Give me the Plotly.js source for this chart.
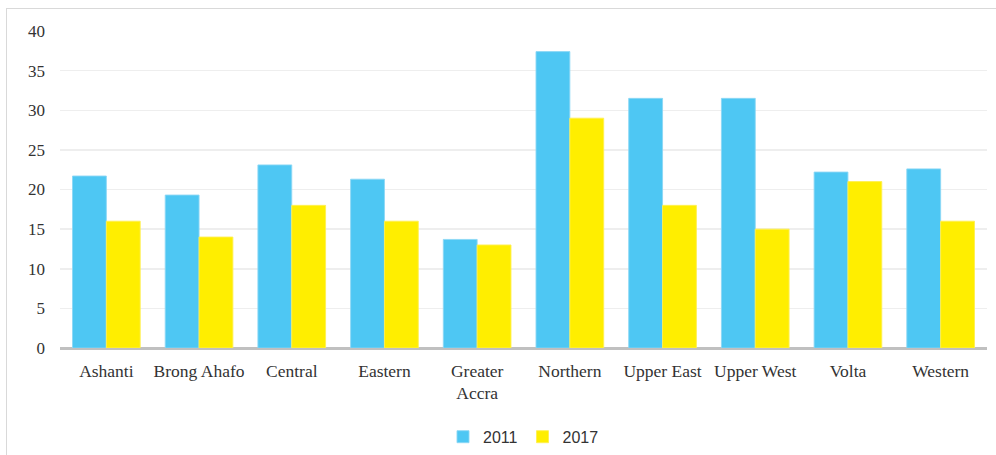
<!DOCTYPE html>
<html>
<head>
<meta charset="utf-8">
<script src="https://cdn.plot.ly/plotly-3.0.1.min.js"></script>
<style>
html,body{margin:0;padding:0;background:#fff;}
#frame{position:absolute;left:6px;top:8px;width:1000px;height:460px;border:1px solid #D9D9D9;box-sizing:border-box;}
#chart{position:absolute;left:0;top:0;width:996px;height:455px;}
</style>
</head>
<body>
<div id="frame"></div>
<div id="chart"></div>
<script>
var regions = ["Ashanti","Brong Ahafo","Central","Eastern","Greater<br>Accra","Northern","Upper East","Upper West","Volta","Western"];
var values2011 = [21.7, 19.3, 23.1, 21.3, 13.7, 37.4, 31.5, 31.5, 22.2, 22.6];
var values2017 = [16, 14, 18, 16, 13, 29, 18, 15, 21, 16];
var yTicks = [0,5,10,15,20,25,30,35,40];

var traces = [
  {type:'bar', name:'2011', x:regions, y:values2011,
   marker:{color:'rgba(69,196,242,0.95)', line:{color:'rgba(140,215,245,0.9)', width:1}}},
  {type:'bar', name:'2017', x:regions, y:values2017,
   marker:{color:'#FFEE00', line:{color:'rgba(255,240,80,0.9)', width:1}}}
];

var layout = {
  width:996, height:455,
  margin:{l:60, r:9, t:31, b:107, autoexpand:false},
  paper_bgcolor:'rgba(0,0,0,0)', plot_bgcolor:'rgba(0,0,0,0)',
  barmode:'group', bargap:0.27, bargroupgap:0,
  font:{family:'"Liberation Serif", "DejaVu Serif", serif', size:16, color:'#333'},
  xaxis:{type:'category', showgrid:false, zeroline:false, showline:false, ticks:'',
         ticklabelstandoff:10, automargin:false,
         tickfont:{family:'"Liberation Serif", serif', size:17.5, color:'#333'}},
  yaxis:{range:[0,40], tickvals:yTicks, showgrid:true, gridcolor:'#EEEEEE', gridwidth:1.5,
         zeroline:true, zerolinecolor:'#C0C0C0', zerolinewidth:3, showline:false,
         ticks:'', ticklabelstandoff:14, automargin:false,
         tickfont:{family:'"Liberation Serif", serif', size:17, color:'#333'}},
  showlegend:true,
  legend:{orientation:'h', x:0.5, xanchor:'center', yref:'container', y:0.04, yanchor:'middle',
          font:{family:'"Liberation Sans", "Open Sans", sans-serif', size:16, color:'#333'},
          itemwidth:30, traceorder:'normal'}
};

Plotly.newPlot('chart', traces, layout, {displayModeBar:false, staticPlot:true});
</script>
</body>
</html>
